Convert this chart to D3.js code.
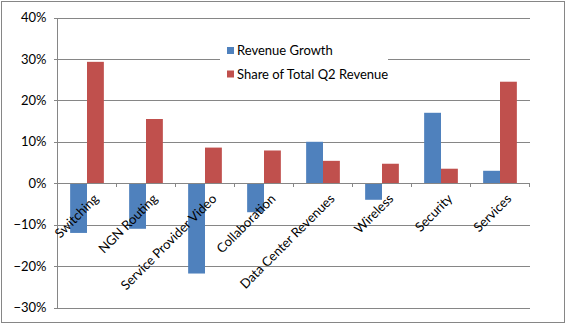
<!DOCTYPE html>
<html>
<head>
<meta charset="utf-8">
<script src="https://cdn.jsdelivr.net/npm/d3@7"></script>
<style>
  body { margin: 0; background: #fff; }
  svg text { font-family: Lato, "Open Sans", sans-serif; fill: #000; }
</style>
</head>
<body>
<svg id="chart"></svg>
<script>
// chart data
const categories = ["Switching", "NGN Routing", "Service Provider Video", "Collaboration",
  "Data Center Revenues", "Wireless", "Security", "Services"];
const revenueGrowth = [-0.12, -0.11, -0.218, -0.07, 0.10, -0.04, 0.17, 0.03];
const shareOfRevenue = [0.293, 0.155, 0.086, 0.079, 0.054, 0.047, 0.035, 0.245];
const seriesNames = ["Revenue Growth", "Share of Total Q2 Revenue"];
const yTicks = [-0.3, -0.2, -0.1, 0, 0.1, 0.2, 0.3, 0.4];

const width = 567, height = 326;
const colors = ["#4F81BD", "#C0504D"];
const plot = {left: 57.5, right: 529.5, top: 17.5, bottom: 307.5};

const svg = d3.select("#chart")
    .attr("width", width)
    .attr("height", height);

svg.append("rect")
    .attr("x", 1.5).attr("y", 1.5)
    .attr("width", 563).attr("height", 321)
    .attr("fill", "#fff")
    .attr("stroke", "#868686");

const x0 = d3.scaleBand()
    .domain(categories)
    .range([plot.left, plot.right]);

const x1 = d3.scaleBand()
    .domain(seriesNames)
    .range([0, x0.bandwidth()])
    .paddingOuter(0.75);

const y = d3.scaleLinear()
    .domain([-0.3, 0.4])
    .range([plot.bottom, plot.top]);

// gridlines + y ticks
svg.append("g")
    .attr("transform", `translate(${plot.left},0)`)
    .call(d3.axisLeft(y).tickValues(yTicks).tickFormat(d3.format(".0%"))
        .tickSizeInner(-(plot.right - plot.left)).tickSizeOuter(0).tickPadding(11))
    .call(g => g.select(".domain").remove())
    .call(g => g.selectAll(".tick line").attr("stroke", "#868686").attr("x1", -4).attr("shape-rendering", "crispEdges"))
    .call(g => g.selectAll(".tick text").attr("font-size", 13).attr("font-family", "Lato").attr("fill", "#000"));

svg.append("line")
    .attr("x1", plot.left).attr("x2", plot.left)
    .attr("y1", plot.top).attr("y2", plot.bottom)
    .attr("stroke", "#868686").attr("shape-rendering", "crispEdges");

// legend
const legend = svg.append("g").attr("transform", "translate(220,36)");
legend.append("rect").attr("width", 168).attr("height", 54).attr("fill", "#fff");
seriesNames.forEach((s, i) => {
  const g = legend.append("g").attr("transform", `translate(7,${11 + i * 23.5})`);
  g.append("rect").attr("width", 7).attr("height", 7).attr("fill", colors[i]);
  g.append("text").attr("x", 10).attr("y", 3.5).attr("dy", "0.35em")
      .attr("font-size", 13).text(s);
});

// bars
const rows = categories.map((c, i) => ({c, vals: [revenueGrowth[i], shareOfRevenue[i]]}));
svg.append("g")
  .selectAll("g")
  .data(rows)
  .join("g")
    .attr("transform", d => `translate(${x0(d.c)},0)`)
  .selectAll("rect")
  .data(d => d.vals.map((v, i) => ({s: seriesNames[i], v, i})))
  .join("rect")
    .attr("x", d => x1(d.s))
    .attr("width", x1.bandwidth())
    .attr("y", d => y(Math.max(0, d.v)))
    .attr("height", d => Math.abs(y(d.v) - y(0)))
    .attr("fill", d => colors[d.i]);

// category axis at zero
const xAxis = svg.append("g")
    .attr("transform", `translate(0,${y(0)})`)
    .call(d3.axisBottom(x0).tickSize(0).tickPadding(0));
xAxis.select(".domain").attr("stroke", "#868686").attr("shape-rendering", "crispEdges");
const bounds = categories.map(c => x0(c)).concat([plot.right]);
xAxis.selectAll(".bound")
  .data(bounds)
  .join("line")
    .attr("x1", d => d).attr("x2", d => d)
    .attr("y1", 0).attr("y2", 4)
    .attr("stroke", "#868686").attr("shape-rendering", "crispEdges");
xAxis.selectAll(".tick text")
    .attr("font-size", 13)
    .attr("fill", "#000")
    .attr("text-anchor", "end")
    .attr("dy", null)
    .attr("transform", "translate(5,9) rotate(-45)")
    .attr("y", 0)
    .attr("dominant-baseline", "hanging");
</script>
</body>
</html>
